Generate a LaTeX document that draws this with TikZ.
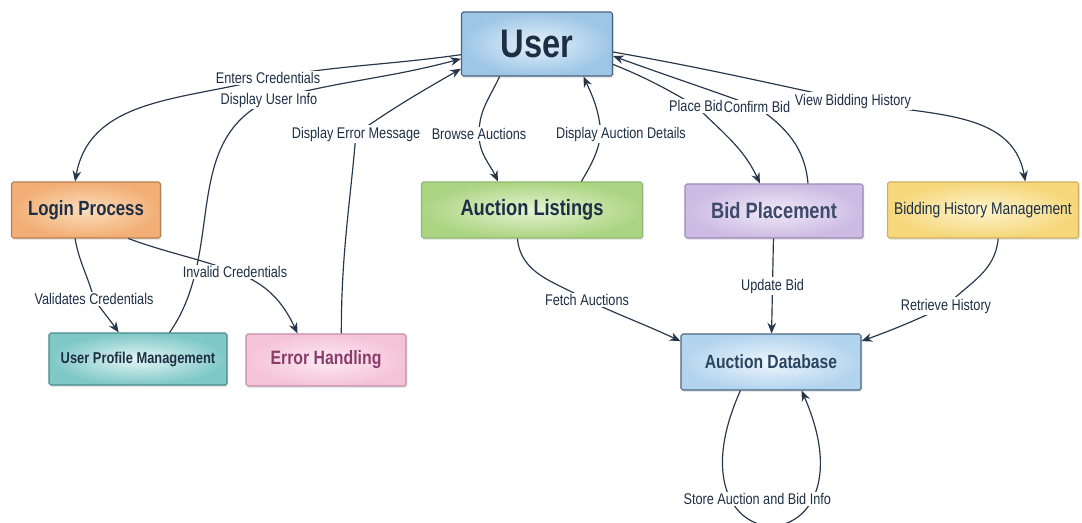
\documentclass[tikz,border=0pt]{standalone}
\usepackage{fontspec}
\setmainfont{Liberation Sans}[FakeStretch=0.82]
\usetikzlibrary{arrows.meta, shadows}
\usepackage{xcolor}

\definecolor{linec}{HTML}{26374B}
\definecolor{txtc}{HTML}{1D2F45}
\definecolor{userin}{HTML}{E6F2FB}\definecolor{userout}{HTML}{9CC5E6}\definecolor{userbd}{HTML}{46627F}
\definecolor{loginin}{HTML}{FCDDBC}\definecolor{loginout}{HTML}{F2AE74}\definecolor{loginbd}{HTML}{B48052}
\definecolor{listin}{HTML}{E6F3D2}\definecolor{listout}{HTML}{ACD583}\definecolor{listbd}{HTML}{8FB872}
\definecolor{bidin}{HTML}{F0EAF7}\definecolor{bidout}{HTML}{CDBBE3}\definecolor{bidbd}{HTML}{9A89B6}\definecolor{bidtxt}{HTML}{3D4A6B}
\definecolor{histin}{HTML}{FDF3CD}\definecolor{histout}{HTML}{F6D77A}\definecolor{histbd}{HTML}{CFB060}
\definecolor{profin}{HTML}{E3F5F4}\definecolor{profout}{HTML}{7EC8C7}\definecolor{profbd}{HTML}{4A8A8B}
\definecolor{errin}{HTML}{FCEBF2}\definecolor{errout}{HTML}{F5C3D8}\definecolor{errbd}{HTML}{C38DA7}\definecolor{errtxt}{HTML}{8A3C6C}
\definecolor{dbin}{HTML}{EEF6FC}\definecolor{dbout}{HTML}{B3D4EE}\definecolor{dbbd}{HTML}{4A6584}\definecolor{dbtxt}{HTML}{2A4561}

\begin{document}
\begin{tikzpicture}[x=0.03cm, y=-0.03cm,
			box/.style={draw, rounded corners=1.5pt, line width=0.9pt, inner sep=0pt, text=txtc,
				drop shadow={opacity=0.18, shadow xshift=0.04cm, shadow yshift=-0.06cm}},
			lbl/.style={fill=white, inner sep=1.2pt, text=txtc, font=\fontsize{13.2}{15}\selectfont},
			flow/.style={draw=linec, line width=1pt, -{Stealth[length=3.2mm, width=2.6mm]}}]
			
			\fill[white] (0,0) rectangle (1082,522);
			\useasboundingbox (0,0) rectangle (1082,522);
			
			% Nodi (coordinate in pixel dell'immagine)
			\node[box, minimum width=4.53cm, minimum height=1.92cm, draw=userbd, inner color=userin, outer color=userout, font=\fontsize{34}{38}\selectfont\bfseries] (user) at (537,44) {User};
			\node[box, minimum width=4.47cm, minimum height=1.68cm, draw=loginbd, inner color=loginin, outer color=loginout, font=\fontsize{17.5}{20}\selectfont\bfseries] (login) at (86,210) {Login Process};
			\node[box, minimum width=6.63cm, minimum height=1.68cm, draw=listbd, inner color=listin, outer color=listout, font=\fontsize{19}{22}\selectfont\bfseries] (listings) at (532,210) {Auction Listings};
			\node[box, minimum width=5.34cm, minimum height=1.62cm, draw=bidbd, inner color=bidin, outer color=bidout, text=bidtxt, font=\fontsize{19}{22}\selectfont\bfseries] (bid) at (774,211) {Bid Placement};
			\node[box, minimum width=5.73cm, minimum height=1.68cm, draw=histbd, inner color=histin, outer color=histout, font=\fontsize{14.4}{17}\selectfont] (history) at (983,210) {Bidding History Management};
			\node[box, minimum width=5.34cm, minimum height=1.56cm, draw=profbd, inner color=profin, outer color=profout, font=\fontsize{13.4}{16}\selectfont\bfseries] (profile) at (138,359) {User Profile Management};
			\node[box, minimum width=4.8cm, minimum height=1.56cm, draw=errbd, inner color=errin, outer color=errout, text=errtxt, font=\fontsize{16.5}{19}\selectfont\bfseries] (error) at (326,360) {Error Handling};
			\node[box, minimum width=5.4cm, minimum height=1.68cm, draw=dbbd, inner color=dbin, outer color=dbout, text=dbtxt, font=\fontsize{16.3}{19}\selectfont\bfseries] (db) at (771,362) {Auction Database};
			
			% --- Login e profilo ---
			\draw[flow] (user.188) to[out=188,in=10] (268,78) node[lbl]{Enters Credentials} to[out=195,in=80] (login.111);
			\draw[flow] (profile.40) to[out=55,in=205] (269,100) node[lbl]{Display User Info} to[out=15,in=195] (user.191);
			\draw[flow] (error.60) to[out=90,in=-95] (356,134) node[lbl]{Display Error Message} to[out=35,in=210] (user.198);
			\draw[flow] (login.249) to[out=-80,in=105] (94,299) node[lbl]{Validates Credentials} to[out=-55,in=125] (profile.126);
			\draw[flow] (login.-34) to[out=-20,in=160] (235,272) node[lbl]{Invalid Credentials} to[out=-20,in=115] (error.137);
			
			% --- Aste e offerte ---
			\draw[flow] (user.221) to[out=-115,in=90] (479,134) node[lbl]{Browse Auctions} to[out=-90,in=115] (listings.140);
			\draw[flow] (listings.30) to[out=60,in=-100] (601,134) node[lbl, xshift=0.6cm]{Display Auction Details} to[out=95,in=-65] (user.-35);
			\draw[flow] (user.-15) to[out=-22,in=150] (696,106) node[lbl]{Place Bid} to[out=-45,in=115] (bid.117);
			\draw[flow] (bid.39) to[out=95,in=-35] (757,107) node[lbl]{Confirm Bid} to[out=160,in=-20] (user.-9);
			\draw[flow] (user.-6) to[out=-10,in=168] (853,101) node[lbl]{View Bidding History} to[out=-12,in=100] (history.34);
			
			% --- Database ---
			\draw[flow] (listings.-117) to[out=-85,in=150] (587,300) node[lbl]{Fetch Auctions} to[out=-25,in=155] (db.167);
			\draw[flow] (bid) -- node[lbl]{Update Bid} (db);
			\draw[flow] (history.-62) to[out=-95,in=45] (946,306) node[lbl]{Retrieve History} to[out=-155,in=20] (db.13);
			\draw[flow] (db.-137) .. controls (660,570) and (880,570) .. node[lbl, pos=0.5, xshift=-0.39cm, yshift=0.78cm]{Store Auction and Bid Info} (db.-43);
			
		\end{tikzpicture}
\end{document}
